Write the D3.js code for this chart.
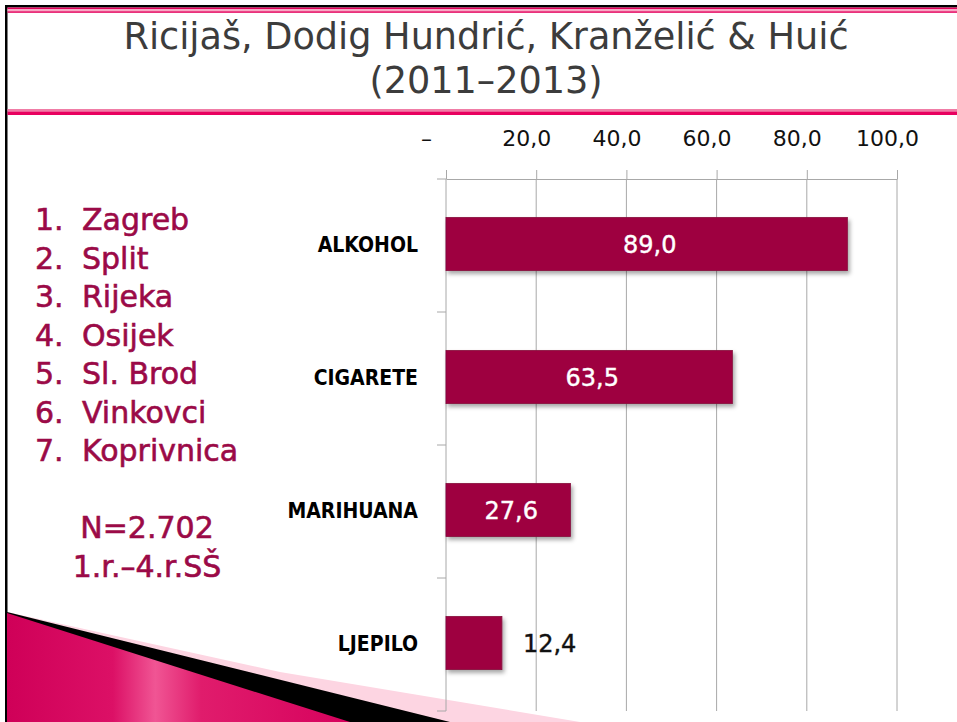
<!DOCTYPE html>
<html>
<head>
<meta charset="utf-8">
<script src="https://cdn.jsdelivr.net/npm/d3@7"></script>
<style>
  body { margin: 0; background: #fff; }
  svg { display: block; }
</style>
</head>
<body>
<div id="slide"></div>
<script>
// slide values
var titleLines = ["Ricijaš, Dodig Hundrić, Kranželić & Huić", "(2011–2013)"];
var categories = ["ALKOHOL", "CIGARETE", "MARIHUANA", "LJEPILO"];
var values = [89.0, 63.5, 27.6, 12.4];
var xTicks = [0, 20, 40, 60, 80, 100];
var cities = ["Zagreb", "Split", "Rijeka", "Osijek", "Sl. Brod", "Vinkovci", "Koprivnica"];
var noteLines = ["N=2.702", "1.r.–4.r.SŠ"];

var width = 957;
var height = 722;
var wine = "#9b0a47";

var svg = d3.select("#slide").append("svg")
    .attr("width", width)
    .attr("height", height);

var defs = svg.append("defs");

var grad = defs.append("linearGradient")
    .attr("id", "pinkGrad")
    .attr("gradientUnits", "userSpaceOnUse")
    .attr("x1", 7).attr("y1", 0).attr("x2", 360).attr("y2", 0);
[["0", "#cf0058"], ["0.3", "#dc1066"], ["0.42", "#f05594"], ["0.55", "#e01c6c"], ["1", "#d6005c"]]
  .forEach(function(s){ grad.append("stop").attr("offset", s[0]).attr("stop-color", s[1]); });

var shadow = defs.append("filter").attr("id", "barShadow")
    .attr("x", "-10%").attr("y", "-20%").attr("width", "130%").attr("height", "160%");
shadow.append("feDropShadow")
    .attr("dx", 2).attr("dy", 3).attr("stdDeviation", 2)
    .attr("flood-color", "#000").attr("flood-opacity", 0.35);

// frame & header lines
svg.append("rect").attr("x", 5).attr("y", 5).attr("width", width - 5).attr("height", 2.5).attr("fill", "#000");
svg.append("rect").attr("x", 5).attr("y", 5).attr("width", 2.5).attr("height", height - 5).attr("fill", "#000");
svg.append("rect").attr("x", 7.5).attr("y", 7.5).attr("width", width).attr("height", 1.8).attr("fill", "#e4005c");
svg.append("rect").attr("x", 7.5).attr("y", 9.3).attr("width", width).attr("height", 2).attr("fill", "#f7a8c4");
svg.append("rect").attr("x", 7.5).attr("y", 11.3).attr("width", width).attr("height", 1.5).attr("fill", "#e4005c");
svg.append("rect").attr("x", 7.5).attr("y", 109).attr("width", width).attr("height", 2.5).attr("fill", "#f07ca6");
svg.append("rect").attr("x", 7.5).attr("y", 111.5).attr("width", width).attr("height", 3.5).attr("fill", "#e8005f");

// title (condensed face, stretched a little to the original width)
svg.append("g")
    .attr("transform", "translate(486,0) scale(1.1,1)")
  .selectAll("text")
  .data(titleLines)
  .enter().append("text")
    .attr("x", 0)
    .attr("y", function(d, i){ return 49 + i * 44; })
    .attr("text-anchor", "middle")
    .style("font-family", "'DejaVu Sans Condensed', sans-serif")
    .style("font-size", "37px")
    .style("fill", "#3c3c3c")
    .text(function(d){ return d; });

// bottom-left decoration
var deco = svg.append("g");
deco.append("polygon").attr("points", "7,612 280,672 580,722 7,722").attr("fill", "#fdd5e2");
deco.append("polygon").attr("points", "7,612 450,722 7,722").attr("fill", "#000");
deco.append("polygon").attr("points", "7,613 350,722 7,722").attr("fill", "url(#pinkGrad)");

// city list
var list = svg.append("g")
    .style("font-family", "'DejaVu Sans', sans-serif")
    .style("font-size", "30px")
    .style("fill", wine)
    .style("stroke", wine)
    .style("stroke-width", 0.6);

var rows = list.selectAll("g.city")
  .data(cities)
  .enter().append("g")
    .attr("class", "city")
    .attr("transform", function(d, i){ return "translate(0," + (230 + i * 38.5) + ")"; });
rows.append("text").attr("x", 35).text(function(d, i){ return (i + 1) + "."; });
rows.append("text").attr("x", 82).text(function(d){ return d; });

list.selectAll("text.note")
  .data(noteLines)
  .enter().append("text")
    .attr("class", "note")
    .attr("x", 147)
    .attr("y", function(d, i){ return 538 + i * 39; })
    .attr("text-anchor", "middle")
    .text(function(d){ return d; });

// chart
var x = d3.scaleLinear().domain([0, 100]).range([446, 897]);
var y = d3.scaleBand().domain(categories).range([179, 711]);
var barH = y.bandwidth() * 0.4;
var gridColor = "#a8a8a8";

var fmt = function(v){ return v === 0 ? "–" : v.toFixed(1).replace(".", ","); };

svg.append("g").selectAll("line.grid")
  .data(xTicks.slice(1))
  .enter().append("line")
    .attr("class", "grid")
    .attr("x1", function(d){ return x(d); })
    .attr("x2", function(d){ return x(d); })
    .attr("y1", y.range()[0])
    .attr("y2", y.range()[1])
    .attr("stroke", gridColor);

var xAxis = svg.append("g")
    .attr("transform", "translate(0," + y.range()[0] + ")")
    .call(d3.axisTop(x).tickValues(xTicks).tickFormat(fmt).tickSize(9).tickSizeOuter(0).tickPadding(24));
xAxis.select(".domain").attr("stroke", gridColor);
xAxis.selectAll(".tick line").attr("stroke", gridColor);
xAxis.selectAll(".tick text")
    .attr("dx", function(d){ return d === 0 ? -20 : -10; })
    .style("font-family", "'DejaVu Sans', sans-serif")
    .style("font-size", "22px")
    .style("fill", "#111");

// y axis with ticks at band edges
var edges = categories.map(function(c){ return y(c); }).concat([y.range()[1]]);
var yAxis = svg.append("g");
yAxis.append("line")
    .attr("x1", x(0)).attr("x2", x(0))
    .attr("y1", y.range()[0]).attr("y2", y.range()[1])
    .attr("stroke", gridColor);
yAxis.selectAll("line.edge")
  .data(edges)
  .enter().append("line")
    .attr("class", "edge")
    .attr("x1", x(0) - 9).attr("x2", x(0))
    .attr("y1", function(d){ return d; }).attr("y2", function(d){ return d; })
    .attr("stroke", gridColor);
yAxis.selectAll("text")
  .data(categories)
  .enter().append("text")
    .attr("x", x(0) - 28)
    .attr("y", function(d){ return y(d) + y.bandwidth() / 2 - 1; })
    .attr("dy", "0.36em")
    .attr("text-anchor", "end")
    .style("font-family", "'DejaVu Sans Condensed', sans-serif")
    .style("font-weight", "bold")
    .style("font-size", "21px")
    .style("fill", "#000")
    .text(function(d){ return d; });

var bars = svg.append("g").selectAll("g.bar")
  .data(values)
  .enter().append("g")
    .attr("class", "bar");

bars.append("rect")
    .attr("x", x(0))
    .attr("y", function(d, i){ return y(categories[i]) + (y.bandwidth() - barH) / 2 - 1.5; })
    .attr("width", function(d){ return x(d) - x(0); })
    .attr("height", barH)
    .attr("fill", "#9e0041")
    .attr("stroke", "#86103e")
    .attr("stroke-width", 0.8)
    .attr("filter", "url(#barShadow)");

bars.append("text")
    .attr("x", function(d){ return d > 20 ? (x(0) + x(d)) / 2 + 3 : x(d) + 21; })
    .attr("y", function(d, i){ return y(categories[i]) + y.bandwidth() / 2 - 1.5; })
    .attr("dy", "0.36em")
    .attr("text-anchor", function(d){ return d > 20 ? "middle" : "start"; })
    .style("font-family", "'DejaVu Sans', sans-serif")
    .style("font-size", "24px")
    .style("fill", function(d){ return d > 20 ? "#fff" : "#111"; })
    .style("stroke", function(d){ return d > 20 ? "#fff" : "#111"; })
    .style("stroke-width", 0.4)
    .text(fmt);
</script>
</body>
</html>
